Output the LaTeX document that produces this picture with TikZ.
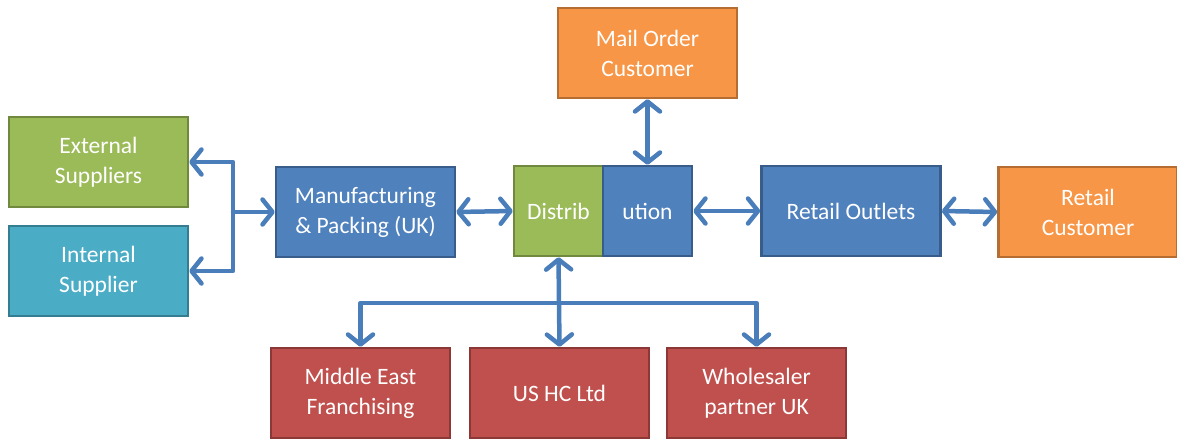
\documentclass[tikz,border=0pt]{standalone}
\usepackage{fontspec}
\setmainfont{Carlito}
\usetikzlibrary{arrows.meta}
\definecolor{gfill}{HTML}{9BBB59}\definecolor{gline}{HTML}{71893F}
\definecolor{bfill}{HTML}{4F81BD}\definecolor{bline}{HTML}{385D8A}
\definecolor{tfill}{HTML}{4BACC6}\definecolor{tline}{HTML}{357D91}
\definecolor{ofill}{HTML}{F79646}\definecolor{oline}{HTML}{B66D31}
\definecolor{rfill}{HTML}{C0504D}\definecolor{rline}{HTML}{8C3836}
\definecolor{arrowc}{HTML}{4A7EBB}
\tikzset{
  card/.style={rectangle, minimum width=179pt, minimum height=90pt, line width=2.5pt,
    text=white, align=center, inner sep=2pt,
    font=\fontsize{23.5}{30}\selectfont},
  greencard/.style={card, fill=gfill, draw=gline},
  bluecard/.style={card, fill=bfill, draw=bline},
  tealcard/.style={card, fill=tfill, draw=tline},
  orangecard/.style={card, fill=ofill, draw=oline},
  redcard/.style={card, fill=rfill, draw=rline},
  barb/.tip={Straight Barb[length=10pt, width=25pt, line cap=round, line join=round]},
  flow/.style={draw=arrowc, line width=4.5pt, line join=round, line cap=round, arrows={-barb}},
  flow2/.style={flow, arrows={barb-barb}}
}
\begin{document}
\begin{tikzpicture}[x=1pt, y=-1pt]
\useasboundingbox (0,0) rectangle (1177,439);

% sources on the left
\node[greencard] (ext) at (98.5,162) {External\\Suppliers};
\node[tealcard]  (int) at (98.5,271) {Internal\\Supplier};

% main chain
\node[bluecard] (man) at (365.5,212) {Manufacturing\\\& Packing (UK)};
\node[greencard, minimum width=89pt] (dA) at (558.5,211) {Distrib};
\node[bluecard, minimum width=89pt]  (dB) at (647.5,211) {ution};
\node[orangecard] (mail) at (647.5,53) {Mail Order\\Customer};
\node[bluecard] (ret) at (851,211) {Retail Outlets};
\node[orangecard] (cust) at (1088,212) {Retail\\Customer};

% overseas and wholesale partners
\node[redcard] (me) at (360.5,393) {Middle East\\Franchising};
\node[redcard] (us) at (559.5,393) {US HC Ltd};
\node[redcard] (wh) at (756.5,393) {Wholesaler\\partner UK};

% supplier bracket
\coordinate (jx) at (233,212);
\draw[flow2] (ext.east) -- (jx |- ext.east) -- (jx |- int.east) -- (int.east);
\draw[flow] (jx) -- (man.west);

% links along the chain
\draw[flow2] (man.east) -- (dA.west);
\draw[flow2] (dB.east) -- (ret.west);
\draw[flow2] (ret.east) -- (cust.west);
\draw[flow2] (mail.south) -- (dB.north);

% distribution to partners
\coordinate (hy) at (0,303);
\draw[flow2] (dA.south) -- (us.north);
\draw[flow2] (me.north) -- (me.north |- hy) -- (wh.north |- hy) -- (wh.north);
\end{tikzpicture}
\end{document}
